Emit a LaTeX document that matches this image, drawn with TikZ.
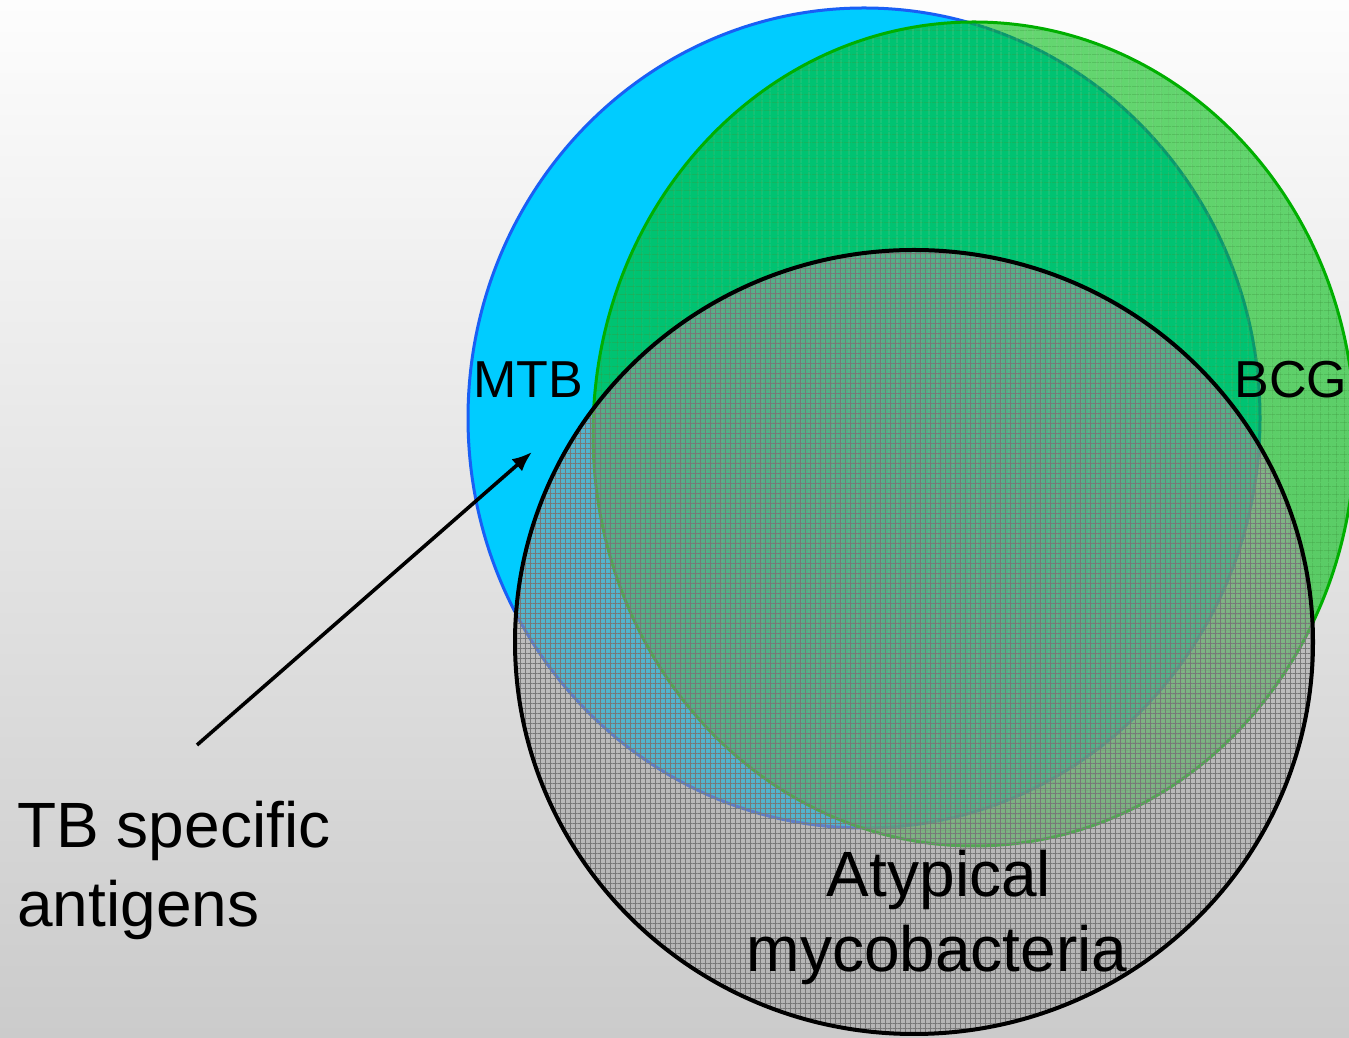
\documentclass[tikz,border=0pt]{standalone}
\usepackage{fontspec}
\setmainfont{Liberation Sans}
\usetikzlibrary{arrows.meta,patterns.meta}
\definecolor{bgtop}{RGB}{253,253,253}
\definecolor{bgbot}{RGB}{203,203,203}
\definecolor{mtbfill}{RGB}{0,204,255}
\definecolor{mtbline}{RGB}{25,95,245}
\definecolor{bcgfill}{RGB}{0,190,20}
\definecolor{bcgline}{RGB}{0,175,0}
\definecolor{atyfill}{RGB}{160,160,160}
\definecolor{atygrid}{RGB}{120,120,120}
\definecolor{bcggrid}{RGB}{60,150,60}
\begin{document}
\begin{tikzpicture}[x=0.5pt,y=0.5pt,
  biglbl/.style={inner sep=0pt, font=\fontsize{32}{38}\selectfont},
  smalllbl/.style={inner sep=0pt, font=\fontsize{26}{31}\selectfont},
  gridA/.style={pattern color=bcggrid, fill opacity=0.5,
     pattern={Lines[angle=0,distance=4pt,line width=0.3pt]}},
  gridB/.style={pattern color=bcggrid, fill opacity=0.5,
     pattern={Lines[angle=90,distance=4pt,line width=0.3pt]}},
  gridC/.style={pattern color=atygrid, fill opacity=0.4,
     pattern={Lines[angle=0,distance=2.5pt,line width=0.2pt]}},
  gridD/.style={pattern color=atygrid, fill opacity=0.4,
     pattern={Lines[angle=90,distance=2.5pt,line width=0.2pt]}},
  pointer/.style={draw=black, line width=1.8pt, -{Latex[length=10pt,width=8pt]}}
]
\useasboundingbox (0,0) rectangle (1349,1038);
\shade[top color=bgtop, bottom color=bgbot] (0,0) rectangle (1349,1038);

% MTB (blue)
\fill[mtbfill] (864,620) ellipse [x radius=198pt, y radius=205pt];
\draw[mtbline, line width=1.5pt] (864,620) ellipse [x radius=198pt, y radius=205pt];

% BCG (green, translucent)
\fill[bcgfill, fill opacity=0.6] (974,604) ellipse [x radius=190.5pt, y radius=206pt];
\path[gridA] (974,604) ellipse [x radius=190.5pt, y radius=206pt];
\path[gridB] (974,604) ellipse [x radius=190.5pt, y radius=206pt];
\draw[bcgline, line width=1.5pt] (974,604) ellipse [x radius=190.5pt, y radius=206pt];

% Atypical (gray, translucent)
\fill[atyfill, fill opacity=0.52] (914,396) ellipse [x radius=199.5pt, y radius=196pt];
\path[gridC] (914,396) ellipse [x radius=199.5pt, y radius=196pt];
\path[gridD] (914,396) ellipse [x radius=199.5pt, y radius=196pt];
\draw[black, line width=2pt] (914,396) ellipse [x radius=199.5pt, y radius=196pt];

% labels
\node[smalllbl, anchor=base] (mtb) at (528,640) {MTB};
\node[smalllbl, anchor=base] (bcg) at (1291,640) {BCG};
\node[biglbl, anchor=base] (aty1) at (939,141) {Atypical};
\node[biglbl, anchor=base] (aty2) at (937,66) {mycobacteria};
\node[biglbl, anchor=base west] (tb1) at (17,190) {TB specific};
\node[biglbl, anchor=base west] (tb2) at (17,111) {antigens};

% arrow
\coordinate (tail) at (197,293);
\coordinate (tip) at (532,586);
\draw[pointer] (tail) -- (tip);
\end{tikzpicture}
\end{document}
